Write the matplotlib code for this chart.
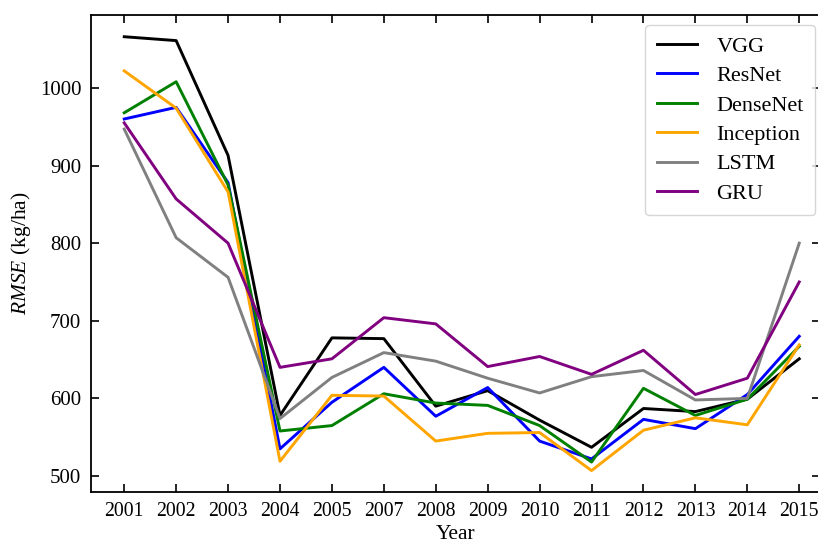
import numpy as np
import matplotlib
matplotlib.use("Agg")
import matplotlib.pyplot as plt
from matplotlib import rc

rc('font', family='Liberation Serif')
rc('mathtext', fontset='custom', it='Liberation Serif:italic', rm='Liberation Serif')

years = ["2001", "2002", "2003", "2004", "2005", "2007", "2008",
         "2009", "2010", "2011", "2012", "2013", "2014", "2015"]

vgg       = [1066, 1061, 913, 578, 678, 677, 590, 610, 572, 537, 587, 583, 599, 651]
resnet    = [960, 975, 878, 535, 595, 640, 577, 614, 545, 522, 573, 561, 605, 680]
densenet  = [968, 1008, 875, 558, 565, 606, 594, 591, 565, 518, 613, 578, 599, 667]
inception = [1022, 974, 866, 519, 604, 603, 545, 555, 556, 507, 559, 575, 566, 669]
lstm      = [947, 807, 756, 574, 627, 659, 648, 626, 607, 628, 636, 598, 600, 800]
gru       = [955, 857, 800, 640, 651, 704, 696, 641, 654, 631, 662, 605, 626, 750]

names = ["VGG", "ResNet", "DenseNet", "Inception", "LSTM", "GRU"]
series = [vgg, resnet, densenet, inception, lstm, gru]
colors = ["black", "blue", "green", "orange", "gray", "purple"]

fig = plt.figure(figsize=(8.18, 5.45), dpi=100)
ax = fig.add_axes([91/818, 53/545, 729/818, 477/545])

x = np.arange(len(years))
for name, vals, c in zip(names, series, colors):
    ax.plot(x, vals, color=c, lw=2.1, label=name)

ax.set_xticks(x)
ax.set_xticklabels(years)
ax.set_yticks([500, 600, 700, 800, 900, 1000])
ax.set_xlim(-0.64, 13.4)
ax.set_ylim(479.4, 1094)

ax.tick_params(axis='both', direction='in', top=True, right=True,
               labelsize=15, length=6, width=1.2, pad=7)
ax.tick_params(axis='x', labelsize=14.2)
for s in ax.spines.values():
    s.set_linewidth(1.3)

ax.set_xlabel('Year', fontsize=15.5, labelpad=3)
ax.set_ylabel(r'$RMSE$ (kg/ha)', fontsize=15.5, labelpad=5)

ax.legend(loc='upper right', bbox_to_anchor=(1 - 5/729, 1 - 10/477),
          borderaxespad=0, fontsize=16, handlelength=1.8, labelspacing=0.4,
          borderpad=0.5, handletextpad=0.9)

plt.savefig('out.png', dpi=100)
